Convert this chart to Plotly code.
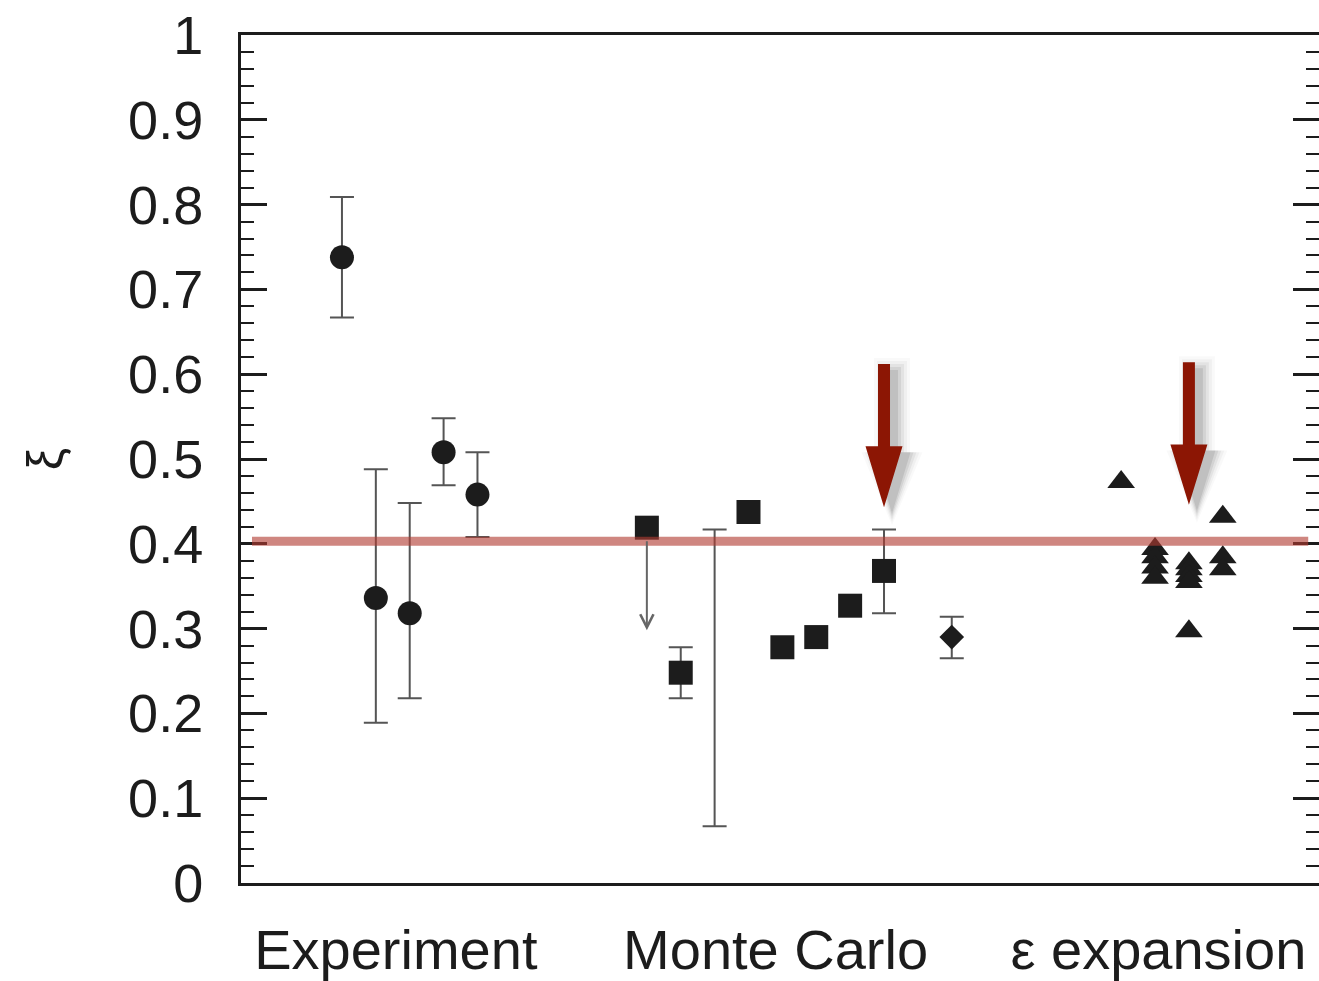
import plotly.graph_objects as go

# ---------------- data ----------------
# x positions are slot indices along the (categorical) horizontal axis
group_labels = ["Experiment", "Monte Carlo", "ε expansion"]
group_centers = [1.59, 12.8, 24.1]

# Experiment (circles) with asymmetric error bars
exp_slot = [0, 1, 2, 3, 4]
exp_xi = [0.738, 0.336, 0.318, 0.508, 0.458]
exp_hi = [0.809, 0.488, 0.448, 0.548, 0.508]
exp_lo = [0.667, 0.189, 0.218, 0.469, 0.408]

# Monte Carlo (squares)
mc_slot = [9, 10, 12, 13, 14, 15, 16]
mc_xi = [0.419, 0.248, 0.4375, 0.278, 0.290, 0.327, 0.368]
# Monte Carlo error bars (slot, low, high) - slot 11 has a bar without marker
mcerr_slot = [10, 11, 16]
mcerr_lo = [0.218, 0.067, 0.318]
mcerr_hi = [0.278, 0.417, 0.417]
# upper-limit arrow (from value down to)
lim_slot = [9]
lim_from = [0.419]
lim_to = [0.298]

# Monte Carlo (diamond)
dia_slot = [18]
dia_xi = [0.290]
dia_hi = [0.314]
dia_lo = [0.265]

# epsilon expansion (triangles)
eps_slot = [23, 24, 24, 24, 24, 25, 25, 25, 25, 25, 26, 26, 26]
eps_xi = [0.473, 0.394, 0.384, 0.372, 0.360, 0.377, 0.370, 0.362, 0.355,
          0.297, 0.432, 0.384, 0.370]

# reference line
ref_xi = 0.403

# highlight arrows (dark red)
hl_slot = [16, 25]
hl_top = [0.612, 0.614]
hl_headbase = [0.515, 0.517]
hl_tip = [0.443, 0.446]

# ---------------- figure ----------------
XR = [-2.98, 28.84]
W, H = 1319, 981
ML, MR, MT, MB = 241, 0, 35, 98
px_per_x = (W - ML - MR) / (XR[1] - XR[0])
px_per_y = (H - MT - MB) / 1.0

ERR_COLOR = "#555555"
INK = "#1c1c1c"

fig = go.Figure()

# experiment
fig.add_trace(go.Scatter(
    x=exp_slot, y=exp_xi, mode="markers",
    marker=dict(symbol="circle", size=24, color=INK),
    error_y=dict(type="data", symmetric=False,
                 array=[h - v for h, v in zip(exp_hi, exp_xi)],
                 arrayminus=[v - l for l, v in zip(exp_lo, exp_xi)],
                 color=ERR_COLOR, thickness=2, width=12),
))

# MC error bars (markers hidden)
mc_center = [(l + h) / 2 for l, h in zip(mcerr_lo, mcerr_hi)]
fig.add_trace(go.Scatter(
    x=mcerr_slot, y=mc_center, mode="markers",
    marker=dict(size=1, color="rgba(0,0,0,0)"),
    error_y=dict(type="data", symmetric=True,
                 array=[(h - l) / 2 for l, h in zip(mcerr_lo, mcerr_hi)],
                 color=ERR_COLOR, thickness=2, width=12),
))

# MC squares
fig.add_trace(go.Scatter(
    x=mc_slot, y=mc_xi, mode="markers",
    marker=dict(symbol="square", size=24, color=INK),
))

# diamond
fig.add_trace(go.Scatter(
    x=dia_slot, y=dia_xi, mode="markers",
    marker=dict(symbol="diamond", size=19, color=INK),
    error_y=dict(type="data", symmetric=False,
                 array=[h - v for h, v in zip(dia_hi, dia_xi)],
                 arrayminus=[v - l for l, v in zip(dia_lo, dia_xi)],
                 color=ERR_COLOR, thickness=2, width=12),
))

# triangles
fig.add_trace(go.Scatter(
    x=eps_slot, y=eps_xi, mode="markers",
    marker=dict(symbol="triangle-up", size=24, color=INK),
))

# upper-limit arrow
for s, a, b in zip(lim_slot, lim_from, lim_to):
    fig.add_annotation(x=s, y=b, ax=s, ay=a, xref="x", yref="y",
                       axref="x", ayref="y", text="", showarrow=True,
                       arrowhead=5, arrowsize=1.3, arrowwidth=2,
                       arrowcolor="#666666", startstandoff=12)

# reference line
fig.add_shape(type="line", xref="paper", yref="y", x0=0.0102, x1=0.99,
              y0=ref_xi, y1=ref_xi, layer="above",
              line=dict(color="rgba(178,60,50,0.62)", width=9))

# highlight arrows with soft shadow
shaft_hw = 6 / px_per_x
head_hw = 18.5 / px_per_x


def arrow_path(x, top, base, tip, dx=0.0, dy=0.0, grow=0.0):
    gx = grow / px_per_x
    gy = grow / px_per_y
    pts = [
        (x - shaft_hw - gx, top + gy),
        (x + shaft_hw + gx, top + gy),
        (x + shaft_hw + gx, base),
        (x + head_hw + gx, base),
        (x, tip - gy),
        (x - head_hw - gx, base),
        (x - shaft_hw - gx, base),
    ]
    pts = [(px + dx, py + dy) for px, py in pts]
    return "M " + " L ".join(f"{px:.4f},{py:.4f}" for px, py in pts) + " Z"


shadow_layers = [(12, 0.025), (9, 0.035), (6, 0.05), (3, 0.07), (0, 0.09)]
for s, t, hb, tp in zip(hl_slot, hl_top, hl_headbase, hl_tip):
    for grow, op in shadow_layers:
        fig.add_shape(type="path", xref="x", yref="y",
                      path=arrow_path(s, t, hb, tp, dx=8 / px_per_x,
                                      dy=-6 / px_per_y, grow=grow),
                      fillcolor=f"rgba(0,0,0,{op})", line=dict(width=0),
                      layer="above")
    fig.add_shape(type="path", xref="x", yref="y",
                  path=arrow_path(s, t, hb, tp),
                  fillcolor="rgb(140,22,4)", line=dict(width=0),
                  layer="above")

fig.update_layout(
    width=W, height=H,
    margin=dict(l=ML, r=MR, t=MT, b=MB, autoexpand=False),
    plot_bgcolor="white", paper_bgcolor="white",
    showlegend=False,
    font=dict(family="Liberation Sans, Arial, sans-serif", color=INK),
)

fig.update_xaxes(
    range=XR, tickmode="array", tickvals=group_centers, ticktext=group_labels,
    ticks="", showline=True, linewidth=3, linecolor=INK, mirror=True,
    showgrid=False, zeroline=False, tickfont=dict(size=56),
    ticklabelstandoff=16, automargin=False,
)

fig.update_yaxes(
    range=[0, 1], tickmode="linear", tick0=0, dtick=0.1,
    ticks="inside", ticklen=26, tickwidth=2.5, tickcolor=INK,
    minor=dict(ticks="inside", ticklen=13, dtick=0.02, tickwidth=2,
               tickcolor=INK, showgrid=False),
    showline=True, linewidth=3, linecolor=INK, mirror="allticks",
    showgrid=False, zeroline=False, tickfont=dict(size=54),
    ticklabelstandoff=24, automargin=False,
    title=dict(text="ξ", font=dict(size=50), standoff=50),
)

fig.write_html("out.html")
